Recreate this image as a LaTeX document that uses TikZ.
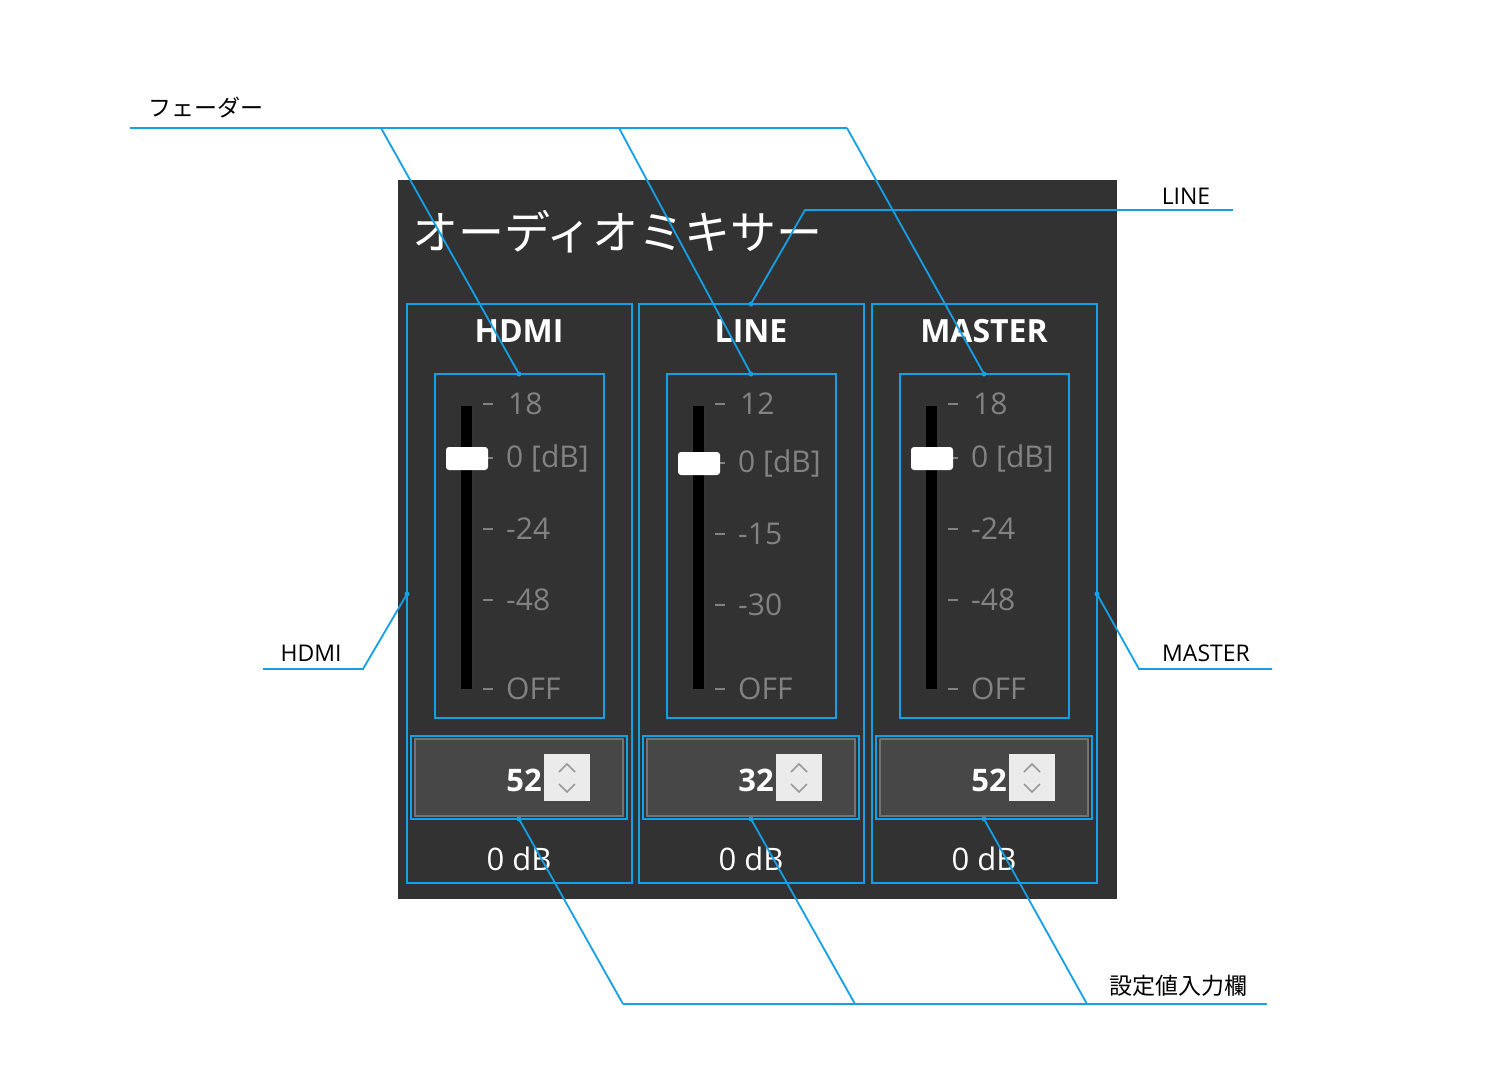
\documentclass[tikz,border=0pt]{standalone}
\usepackage{fontspec}
\setmainfont{Open Sans}
\newfontfamily\jp{Noto Sans CJK JP}
\definecolor{callout}{RGB}{20,160,230}
\definecolor{panel}{RGB}{50,50,50}
\definecolor{scalegray}{RGB}{130,130,130}
\tikzset{
  box/.style={draw=callout,line width=2.8pt},
  co/.style={draw=callout,line width=1.8pt},
  dotc/.style={fill=callout,circle,inner sep=0pt,minimum size=5pt},
  lbl/.style={font=\jp\fontsize{23}{25}\selectfont,text=black,inner sep=0pt},
  scl/.style={font=\fontsize{30}{32}\selectfont,text=scalegray,anchor=west,inner sep=0pt},
}
\begin{document}
\begin{tikzpicture}[x=1pt,y=-1pt]
\useasboundingbox (0,0) rectangle (1500,1080);
\fill[panel] (398,180) rectangle (1117,899);
\node[anchor=west,text=white,font=\jp\fontsize{46}{50}\selectfont,inner sep=0pt] (title) at (412,232) {オーディオミキサー};
% channels
\foreach \i/\name/\x/\val/\a/\b/\c/\ty/\yb/\yc in {0/HDMI/407/52/18/-24/-48/458/529/600, 1/LINE/639/32/12/-15/-30/463/534/605, 2/MASTER/872/52/18/-24/-48/458/529/600}{
  \begin{scope}[shift={(\x-407,0)}]
  \draw[box] (407,304) rectangle (632,883);
  \node[text=white,font=\bfseries\fontsize{32}{34}\selectfont] (h\i) at (519,331) {\name};
  \draw[box] (435,374) rectangle (604,718);
  \coordinate (ft\i) at (519,374);
  \draw[fill=black,draw=black!60!gray,line width=1.5pt] (460,405) rectangle (473,690);
  \foreach \yy in {404,\ty,\yb,\yc,689} \draw[scalegray,line width=1.5pt] (483,\yy) -- (493,\yy);
  \node[scl] at (508,404) {\a};
  \node[scl] at (506,\ty) {0 [dB]};
  \node[scl] at (506,\yb) {\b};
  \node[scl] at (506,\yc) {\c};
  \node[scl] at (506,689) {OFF};
  \fill[white,rounded corners=3pt] (446,\ty-11) rectangle (488,\ty+12);
  \draw[box] (411,736) rectangle (627,819);
  \draw[fill=black!72,draw=black!55,line width=2pt] (415,739) rectangle (623,816);
  \fill[black!8] (544,754) rectangle (590,801);
  \draw[black!40,line width=1.5pt] (559,772) -- (567,764) -- (575,772) (559,784) -- (567,792) -- (575,784);
  \node[anchor=east,text=white,font=\bfseries\fontsize{31}{33}\selectfont,inner sep=0pt] at (542,780) {\val};
  \coordinate (in\i) at (519,819);
  \node[text=white,font=\fontsize{31}{33}\selectfont] at (519,859) {0 dB};
  \end{scope}
}
% side anchors
\coordinate (hdmi) at (407,594);
\coordinate (line) at (751,304);
\coordinate (master) at (1097,594);
% fader callout
\node[lbl,anchor=south] (lf) at (206,118) {フェーダー};
\coordinate (f0) at (130,128); \coordinate (f1) at (381,128); \coordinate (f2) at (619,128); \coordinate (f3) at (847,128);
\draw[co] (f0) -- (f3);
\draw[co] (f1) -- (ft0) (f2) -- (ft1) (f3) -- (ft2);
% LINE callout
\node[lbl,anchor=south,font=\fontsize{23}{25}\selectfont] (ll) at (1186,205) {LINE};
\coordinate (l0) at (1233,210); \coordinate (l1) at (805,210);
\draw[co] (l0) -- (l1) -- (line);
% HDMI callout
\node[lbl,anchor=south,font=\fontsize{23}{25}\selectfont] (lh) at (311,662) {HDMI};
\coordinate (h0) at (263,669); \coordinate (h1) at (363,669);
\draw[co] (h0) -- (h1) -- (hdmi);
% MASTER callout
\node[lbl,anchor=south,font=\fontsize{23}{25}\selectfont] (lm) at (1206,662) {MASTER};
\coordinate (m0) at (1272,669); \coordinate (m1) at (1139,669);
\draw[co] (m0) -- (m1) -- (master);
% input callout
\node[lbl,anchor=south] (li) at (1178,997) {設定値入力欄};
\coordinate (s0) at (1267,1004); \coordinate (s1) at (1087,1004); \coordinate (s2) at (855,1004); \coordinate (s3) at (623,1004);
\draw[co] (s0) -- (s3);
\draw[co] (s3) -- (in0) (s2) -- (in1) (s1) -- (in2);
\foreach \p in {ft0,ft1,ft2,in0,in1,in2,hdmi,line,master} \node[dotc] at (\p) {};
\end{tikzpicture}
\end{document}
